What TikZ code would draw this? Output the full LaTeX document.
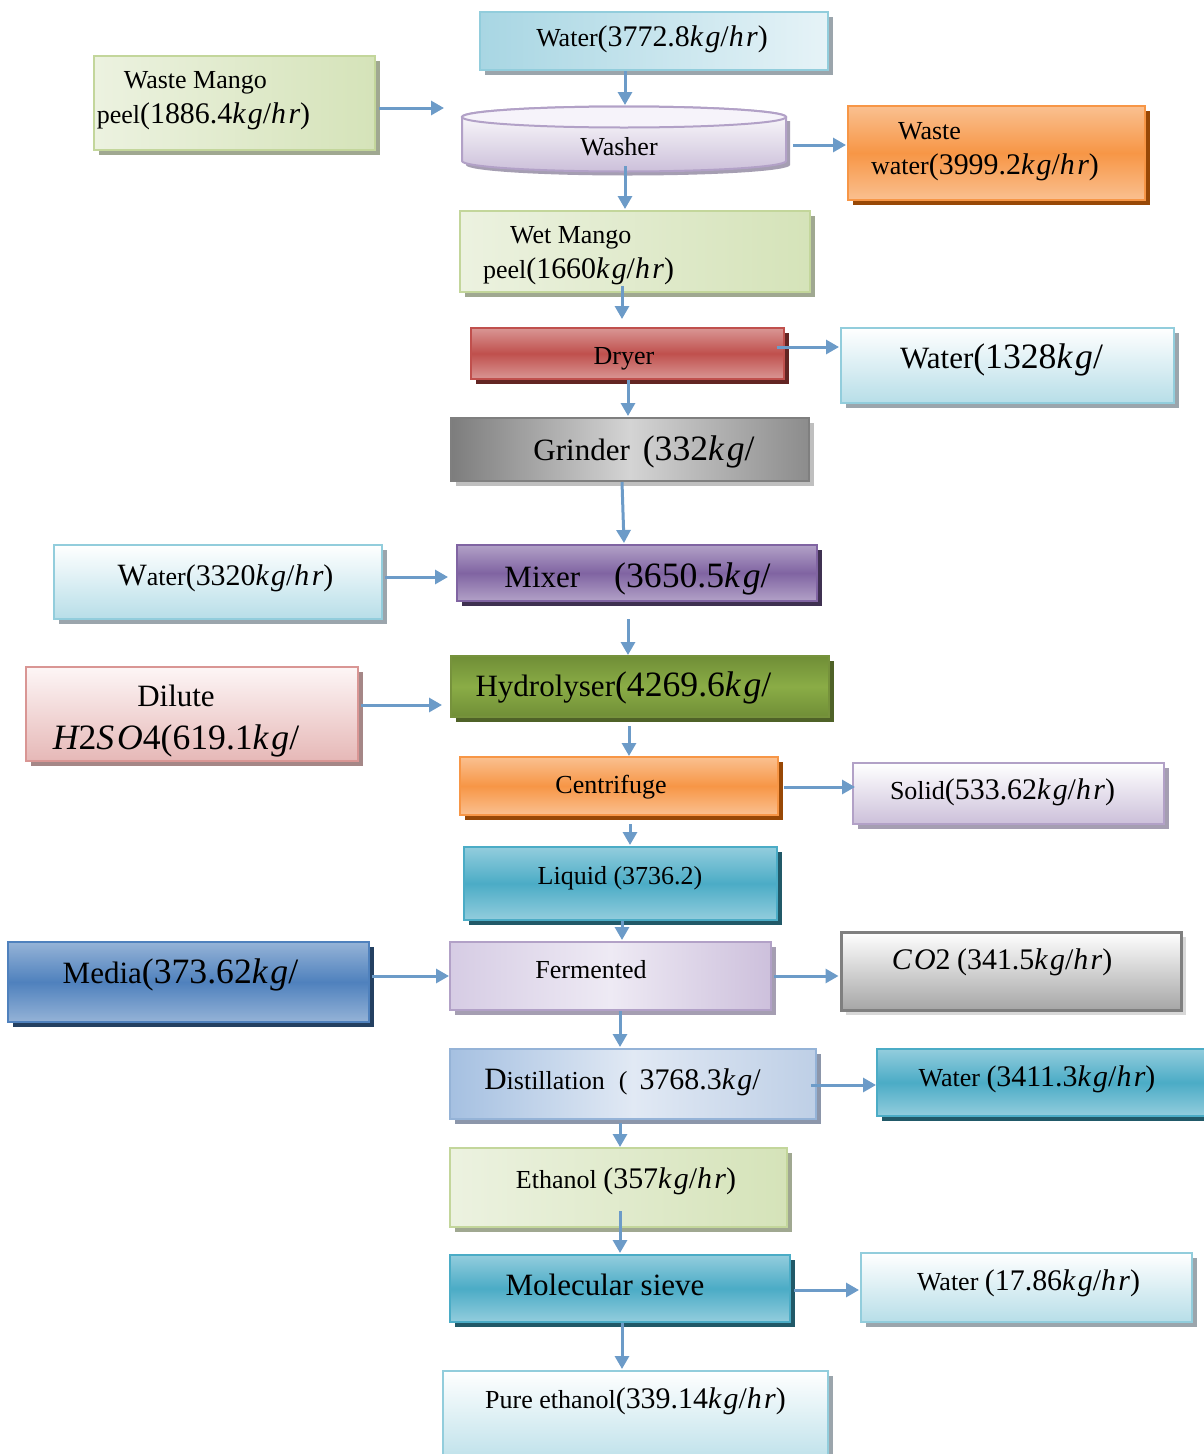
\documentclass[tikz,border=0pt]{standalone}
\usepackage{fontspec}
\setmainfont{Liberation Serif}
\newfontfamily\mqf[Scale=1.15]{Liberation Serif}
\usetikzlibrary{shadows,calc,arrows.meta}
\newcommand\nsz{\fontsize{26}{35}\selectfont}
\newcommand\bsz{\fontsize{31}{43}\selectfont}
\newcommand\mq[1]{{\mqf #1}}
\newcommand\mi[1]{{\itshape\addfontfeatures{LetterSpace=8}#1}}
\newcommand\off[3]{\makebox[0pt]{\kern#1pt\kern#1pt\raisebox{#2pt}{#3}}}
\definecolor{arr}{RGB}{108,155,200}
\definecolor{cyanB}{RGB}{146,205,220}\definecolor{cyanF}{RGB}{183,222,232}\definecolor{grayS}{RGB}{155,165,172}
\definecolor{greenB}{RGB}{195,214,155}\definecolor{greenD}{RGB}{213,227,185}\definecolor{greenL}{RGB}{236,242,224}\definecolor{greenS}{RGB}{160,168,145}
\definecolor{lavB}{RGB}{178,161,199}\definecolor{lavF}{RGB}{204,192,218}\definecolor{lavS}{RGB}{165,158,178}
\definecolor{orB}{RGB}{247,150,70}\definecolor{orL}{RGB}{250,192,144}\definecolor{orS}{RGB}{152,72,6}
\definecolor{redB}{RGB}{192,80,77}\definecolor{redL}{RGB}{217,150,148}\definecolor{redS}{RGB}{99,37,35}
\definecolor{grB}{RGB}{127,127,127}\definecolor{grS}{RGB}{191,191,191}
\definecolor{purB}{RGB}{128,100,162}\definecolor{purL}{RGB}{178,161,199}\definecolor{purS}{RGB}{63,49,81}
\definecolor{pkB}{RGB}{217,150,148}\definecolor{pkL}{RGB}{253,246,246}\definecolor{pkD}{RGB}{230,184,183}\definecolor{pkS}{RGB}{165,135,135}
\definecolor{olB}{RGB}{118,146,60}\definecolor{olD}{RGB}{112,142,55}\definecolor{olL}{RGB}{138,172,70}\definecolor{olS}{RGB}{79,98,40}
\definecolor{tlB}{RGB}{75,172,198}\definecolor{tlL}{RGB}{147,205,221}\definecolor{tlS}{RGB}{33,89,104}
\definecolor{blB}{RGB}{79,129,189}\definecolor{blL}{RGB}{149,179,215}\definecolor{blS}{RGB}{36,64,97}
\definecolor{coB}{RGB}{127,127,127}\definecolor{coD}{RGB}{166,166,166}\definecolor{coS}{RGB}{216,216,216}
\definecolor{dsB}{RGB}{149,179,215}\definecolor{dsD}{RGB}{165,192,225}\definecolor{dsL}{RGB}{225,233,244}\definecolor{dsS}{RGB}{140,150,170}
\tikzset{
  bx/.style={rectangle, line width=2pt, inner sep=0pt, font=\nsz, text height=18pt, text depth=6.5pt},
  big/.style={font=\bsz, text height=22pt, text depth=8pt},
  shd/.style={drop shadow={shadow xshift=5pt, shadow yshift=-5pt, fill=#1, opacity=1}},
  flow/.style={draw=arr, line width=3pt, -{Triangle[length=13pt,width=14pt]}},
  cyanlt/.style={draw=cyanB, top color=white, bottom color=cyanF, shd=grayS},
  cyanside/.style={draw=cyanB, left color={rgb,255:red,168;green,214;blue,227}, right color={rgb,255:red,230;green,243;blue,247}, shd=grayS},
  greenlt/.style={draw=greenB, left color=greenL, right color=greenD, shd=greenS},
  lavlt/.style={draw=lavB, top color=white, bottom color=lavF, shd=lavS},
  orangebx/.style={draw=orB, top color=orL, bottom color=orL, middle color=orB, shd=orS},
  redbx/.style={draw=redB, top color=redL, bottom color=redL, middle color=redB, shd=redS},
  graybx/.style={draw=grB, left color={rgb,255:red,125;green,125;blue,125}, right color={rgb,255:red,140;green,140;blue,140}, middle color={rgb,255:red,212;green,212;blue,212}, shd=grS},
  purbx/.style={draw=purB, top color=purL, bottom color=purL, middle color=purB, shd=purS},
  pinkbx/.style={draw=pkB, top color=pkL, bottom color=pkD, shd=pkS},
  olivebx/.style={draw=olB, top color=olD, bottom color=olD, middle color=olL, shd=olS},
  tealbx/.style={draw=tlB, top color=tlL, bottom color=tlL, middle color=tlB, shd=tlS},
  bluebx/.style={draw=blB, top color=blL, bottom color=blL, middle color=blB, shd=blS},
  fermbx/.style={draw=lavB, left color={rgb,255:red,214;green,204;blue,228}, right color={rgb,255:red,205;green,192;blue,220}, middle color={rgb,255:red,238;green,234;blue,244}, shd=lavS},
  cobx/.style={draw=coB, line width=3pt, top color=white, bottom color=coD, shd=coS},
  distbx/.style={draw=dsB, left color=dsD, right color={rgb,255:red,190;green,207;blue,230}, middle color=dsL, shd=dsS},
}
\begin{document}
\begin{tikzpicture}[x=1pt,y=-1pt]
\useasboundingbox (0,0) rectangle (1204,1454);
\fill[white] (0,0) rectangle (1204,1454);
\clip (0,0) rectangle (1204,1454);

% washer cylinder drawing
\fill[lavS] (466,121) -- (466,165) arc[start angle=180,end angle=360,x radius=162pt,y radius=10.5pt] -- (790,121) -- cycle;
\path[draw=lavB, line width=2pt, top color=white, bottom color=lavF] (462,117) -- (462,161) arc[start angle=180,end angle=360,x radius=162pt,y radius=10.5pt] -- (786,117) arc[start angle=0,end angle=180,x radius=162pt,y radius=10.5pt] -- cycle;
\draw[lavB, line width=2pt, fill={rgb,255:red,246;green,243;blue,250}] (624,117) ellipse [x radius=162pt, y radius=10.5pt];

\node[bx, cyanside, minimum width=348pt, minimum height=58pt] (water1) at (654,41) {\off{-2}{0}{Water\mq{(3772.8\mi{kg}/\mi{hr})}}};
\node[bx, greenlt, minimum width=281pt, minimum height=94pt] (mango) at (234.5,103) {\off{-31}{3.5}{\begin{tabular}{@{}l@{}}\hspace*{27pt}Waste Mango\\peel\mq{(1886.4\mi{kg}/\mi{hr})}\end{tabular}}};
\node[bx, draw=none, minimum width=326pt, minimum height=66pt] (washer) at (624,139) {\off{-5}{-10.6}{Washer}};
\node[bx, orangebx, minimum width=297pt, minimum height=94pt] (wastew) at (996.5,153) {\off{-11.5}{3}{\begin{tabular}{@{}l@{}}\hspace*{27pt}Waste\\water\mq{(3999.2\mi{kg}/\mi{hr})}\end{tabular}}};
\node[bx, greenlt, minimum width=350pt, minimum height=81pt] (wetmango) at (635,251.5) {\off{-56.5}{-3}{\begin{tabular}{@{}l@{}}\hspace*{27pt}Wet Mango\\peel\mq{(1660\mi{kg}/\mi{hr})}\end{tabular}}};
\node[bx, redbx, minimum width=313pt, minimum height=51pt] (dryer) at (627.5,353.5) {\off{-3.5}{-5}{Dryer}};
\node[bx, big, cyanlt, minimum width=333pt, minimum height=75pt] (water2) at (1007.5,365.5) {\off{-6}{4.4}{Water\mq{(1328\mi{kg}/}}};
\node[bx, big, graybx, minimum width=358pt, minimum height=63pt] (grinder) at (630,449.5) {\off{14}{-3.6}{Grinder\hspace{13pt}\mq{(332\mi{kg}/}}};
\node[bx, cyanlt, minimum width=328pt, minimum height=74pt] (water3) at (218,582) {\off{7.5}{2.4}{{\bsz W}ater\mq{(3320\mi{kg}/\mi{hr})}}};
\node[bx, big, purbx, minimum width=360pt, minimum height=56pt] (mixer) at (637,573) {\off{0.5}{-7}{Mixer\hspace{34pt}\mq{(3650.5\mi{kg}/}}};
\node[bx, big, pinkbx, minimum width=332pt, minimum height=94pt] (dilute) at (192,714) {\off{-16}{-4.5}{\begin{tabular}{@{}c@{}}Dilute\\\mq{\mi{H}2\mi{SO}4(619.1\mi{kg}/}\end{tabular}}};
\node[bx, big, olivebx, minimum width=378pt, minimum height=61pt] (hydro) at (640,686.5) {\off{-16.5}{-2.6}{Hydrolyser\mq{(4269.6\mi{kg}/}}};
\node[bx, orangebx, minimum width=318pt, minimum height=58pt] (centri) at (619,786) {\off{-8}{-1.6}{Centrifuge}};
\node[bx, lavlt, minimum width=311pt, minimum height=61pt] (solid) at (1008.5,793.5) {\off{-6}{0}{Solid\mq{(533.62\mi{kg}/\mi{hr})}}};
\node[bx, tealbx, minimum width=313pt, minimum height=73pt] (liquid) at (620.5,883.5) {\off{-0.5}{4.9}{Liquid (3736.2)}};
\node[bx, big, bluebx, minimum width=361pt, minimum height=80pt] (media) at (188.5,982) {\off{-8}{5.9}{Media\mq{(373.62\mi{kg}/}}};
\node[bx, fermbx, minimum width=321pt, minimum height=68pt] (ferment) at (610.5,976) {\off{-19.5}{3.4}{Fermented}};
\node[bx, cobx, minimum width=340pt, minimum height=78pt] (co2) at (1011,971) {\off{-9}{7.4}{\mq{\mi{CO}2} \mq{(341.5\mi{kg}/\mi{hr})}}};
\node[bx, distbx, minimum width=366pt, minimum height=70pt] (distill) at (633,1084) {\off{-10.5}{0.4}{{\bsz D}istillation\hspace{14pt}(\hspace{12pt}\mq{3768.3\mi{kg}/}}};
\node[bx, tealbx, minimum width=338pt, minimum height=67pt] (water4) at (1046,1082.5) {\off{-9}{1.9}{Water \mq{(3411.3\mi{kg}/\mi{hr})}}};
\node[bx, greenlt, minimum width=337pt, minimum height=79pt] (ethanol) at (618.5,1187.5) {\off{7.5}{4.9}{Ethanol \mq{(357\mi{kg}/\mi{hr})}}};
\node[bx, big, tealbx, minimum width=340pt, minimum height=67pt] (molsieve) at (620,1288.5) {\off{-15}{0.4}{Molecular sieve}};
\node[bx, cyanlt, minimum width=331pt, minimum height=69pt] (water5) at (1026.5,1287.5) {\off{2}{2.9}{Water \mq{(17.86\mi{kg}/\mi{hr})}}};
\node[bx, cyanlt, minimum width=385pt, minimum height=99pt] (pure) at (635.5,1420.5) {\off{0}{17.9}{Pure ethanol\mq{(339.14\mi{kg}/\mi{hr})}}};

% connectors
\draw[flow] ($(water1.south)+(-29,0)$) -- ($(washer.north)+(1,0)$);
\draw[flow] ($(mango.east)+(3,5)$) -- ($(washer.west)+(-16,-31)$);
\draw[flow] ($(washer.east)+(5,6)$) -- ($(wastew.west)+(-1,-8)$);
\draw[flow] ($(washer.south)+(1,-7)$) -- ($(wetmango.north)+(-10,-1)$);
\draw[flow] ($(wetmango.south)+(-13,-7)$) -- ($(dryer.north)+(-5.5,-8)$);
\draw[flow] ($(dryer.east)+(-8,-6.5)$) -- ($(water2.west)+(-1,-18.5)$);
\draw[flow] ($(dryer.south)+(0.5,0)$) -- ($(grinder.north)+(-2,-1)$);
\draw[flow] ($(grinder.south)+(-8,0)$) -- ($(mixer.north)+(-13,-1)$);
\draw[flow] ($(water3.east)+(2,-5)$) -- ($(mixer.west)+(-8,4)$);
\draw[flow] ($(mixer.south)+(-9,17)$) -- ($(hydro.north)+(-12,0)$);
\draw[flow] ($(dilute.east)+(2,-9)$) -- ($(hydro.west)+(-8,18.5)$);
\draw[flow] ($(hydro.south)+(-11,8)$) -- ($(centri.north)+(10,0)$);
\draw[flow] ($(centri.east)+(5,1)$) -- ($(solid.west)+(3,-6.5)$);
\draw[flow] ($(centri.south)+(11,8)$) -- ($(liquid.north)+(9.5,-1)$);
\draw[flow] ($(liquid.south)+(1.5,0)$) -- ($(ferment.north)+(11.5,-1)$);
\draw[flow] ($(media.east)+(2,-6)$) -- ($(ferment.west)+(0,0)$);
\draw[flow] ($(ferment.east)+(2,0)$) -- ($(co2.west)+(-1,5)$);
\draw[flow] ($(ferment.south)+(9.5,0)$) -- ($(distill.north)+(-13,-1)$);
\draw[flow] ($(distill.east)+(-6,1)$) -- ($(water4.west)+(0,2.5)$);
\draw[flow] ($(distill.south)+(-13,3)$) -- ($(ethanol.north)+(1.5,0)$);
\draw[flow] ($(ethanol.south)+(1.5,-17)$) -- ($(molsieve.north)+(0,-1)$);
\draw[flow] ($(molsieve.east)+(3,1.5)$) -- ($(water5.west)+(-1,2.5)$);
\draw[flow] ($(molsieve.south)+(2,0)$) -- ($(pure.north)+(-13.5,-1)$);
\end{tikzpicture}
\end{document}
